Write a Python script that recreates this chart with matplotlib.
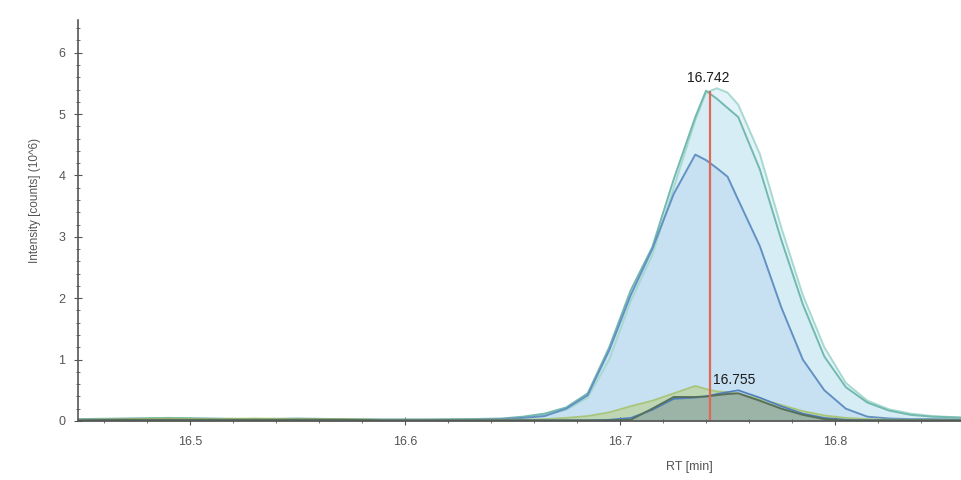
import matplotlib.pyplot as plt
from matplotlib.ticker import MultipleLocator

plt.rcParams['font.family'] = ['Liberation Sans', 'DejaVu Sans']

# retention time grid [min]
rt = [16.448, 16.47, 16.49, 16.51, 16.53, 16.55, 16.57, 16.59, 16.61, 16.63,
      16.645, 16.655, 16.665, 16.675, 16.685, 16.695, 16.705, 16.715, 16.725,
      16.735, 16.740, 16.745, 16.750, 16.755, 16.765, 16.775, 16.785, 16.795,
      16.805, 16.815, 16.825, 16.835, 16.845, 16.862]

# intensities (10^6 counts)
teal = [0.03, 0.04, 0.05, 0.04, 0.03, 0.04, 0.03, 0.02, 0.02, 0.03,
        0.04, 0.07, 0.12, 0.22, 0.45, 1.2, 2.13, 2.83, 3.94,
        4.95, 5.38, 5.25, 5.1, 4.95, 4.1, 2.95, 1.9, 1.05,
        0.55, 0.3, 0.17, 0.1, 0.07, 0.05]
cyan = [0.02, 0.03, 0.04, 0.03, 0.03, 0.03, 0.03, 0.02, 0.02, 0.03,
        0.03, 0.05, 0.1, 0.18, 0.38, 1.0, 1.95, 2.7, 3.8,
        4.9, 5.35, 5.42, 5.35, 5.15, 4.35, 3.15, 2.05, 1.2,
        0.62, 0.33, 0.19, 0.12, 0.08, 0.05]
blue = [0.02, 0.03, 0.03, 0.03, 0.02, 0.03, 0.02, 0.02, 0.02, 0.02,
        0.03, 0.05, 0.08, 0.2, 0.42, 1.15, 2.05, 2.8, 3.7,
        4.34, 4.25, 4.12, 3.98, 3.6, 2.85, 1.85, 1.0, 0.5,
        0.2, 0.07, 0.04, 0.03, 0.03, 0.02]
lightgreen = [0.02, 0.03, 0.04, 0.03, 0.04, 0.03, 0.03, 0.02, 0.02, 0.02,
              0.02, 0.02, 0.03, 0.05, 0.08, 0.14, 0.24, 0.33, 0.45,
              0.57, 0.52, 0.48, 0.47, 0.44, 0.36, 0.26, 0.16, 0.09,
              0.05, 0.03, 0.02, 0.02, 0.02, 0.02]
darkgreen = [0.01, 0.02, 0.02, 0.02, 0.02, 0.02, 0.02, 0.01, 0.01, 0.01,
             0.01, 0.01, 0.01, 0.01, 0.01, 0.01, 0.02, 0.2, 0.39,
             0.39, 0.4, 0.42, 0.44, 0.45, 0.33, 0.2, 0.1, 0.03,
             0.01, 0.01, 0.01, 0.01, 0.01, 0.01]
smallblue = [0.01, 0.01, 0.01, 0.01, 0.01, 0.01, 0.01, 0.01, 0.01, 0.01,
             0.01, 0.01, 0.01, 0.01, 0.01, 0.02, 0.05, 0.18, 0.36,
             0.38, 0.4, 0.44, 0.47, 0.5, 0.38, 0.24, 0.12, 0.05,
             0.02, 0.01, 0.01, 0.01, 0.01, 0.01]

apex_main = 16.742
apex_main_y = 5.38
apex_small = 16.755
apex_small_y = 0.5

fig = plt.figure(figsize=(9.62, 4.8), dpi=100)
ax = fig.add_axes([0.081, 0.123, 0.919, 0.835])

# big traces
ax.fill_between(rt, cyan, color='#dcf1f8', alpha=0.8, lw=0)
ax.fill_between(rt, teal, color='#d2ebf5', alpha=0.7, lw=0)
ax.fill_between(rt, blue, color='#c4dff2', alpha=0.8, lw=0)
ax.plot(rt, cyan, color='#a6d9cf', lw=1.4)
ax.plot(rt, teal, color='#72b9ae', lw=1.4)
ax.plot(rt, blue, color='#6391c4', lw=1.4)

# small traces
ax.fill_between(rt, lightgreen, color='#b9cf8a', alpha=0.6, lw=0)
ax.fill_between(rt, darkgreen, color='#8ea58a', alpha=0.7, lw=0)
ax.fill_between(rt, smallblue, color='#9db3c8', alpha=0.35, lw=0)
ax.plot(rt, lightgreen, color='#a9c57a', lw=1.3)
ax.plot(rt, smallblue, color='#4d7fc0', lw=1.2)
ax.plot(rt, darkgreen, color='#56705a', lw=1.4)

# apex markers
ax.vlines(apex_main, 0, apex_main_y, color='#de6a55', lw=1.6)
ax.text(apex_main - 0.001, apex_main_y + 0.1, f'{apex_main:.3f}', ha='center', va='bottom',
        fontsize=10, color='#1a1a1a')
ax.text(apex_small - 0.002, apex_small_y + 0.06, f'{apex_small:.3f}', ha='center',
        va='bottom', fontsize=10, color='#1a1a1a')

ax.set_xlim(16.448, 16.859)
ax.set_ylim(0, 6.53)
ax.xaxis.set_major_locator(MultipleLocator(0.1))
ax.xaxis.set_minor_locator(MultipleLocator(0.02))
ax.yaxis.set_major_locator(MultipleLocator(1))
ax.yaxis.set_minor_locator(MultipleLocator(0.2))
ax.xaxis.set_major_formatter(plt.FuncFormatter(lambda v, p: f'{v:.1f}'))

for side in ['top', 'right']:
    ax.spines[side].set_visible(False)
for side in ['left', 'bottom']:
    ax.spines[side].set_color('#555555')
    ax.spines[side].set_linewidth(1.2)

ax.tick_params(axis='both', which='major', colors='#555555', labelsize=9,
               labelcolor='#555555')
ax.tick_params(axis='y', which='major', direction='inout', length=6, pad=6)
ax.tick_params(axis='y', which='minor', direction='inout', length=3, color='#555555')
ax.tick_params(axis='x', which='major', direction='inout', length=6, pad=8)
ax.tick_params(axis='x', which='minor', direction='inout', length=3, color='#555555')

ax.set_xlabel('RT [min]', fontsize=9, color='#555555')
ax.xaxis.set_label_coords(0.692, -0.1)
ax.set_ylabel('Intensity [counts] (10^6)', fontsize=8.5, color='#555555')
ax.yaxis.set_label_coords(-0.042, 0.55)

plt.savefig('out.png', dpi=100)
